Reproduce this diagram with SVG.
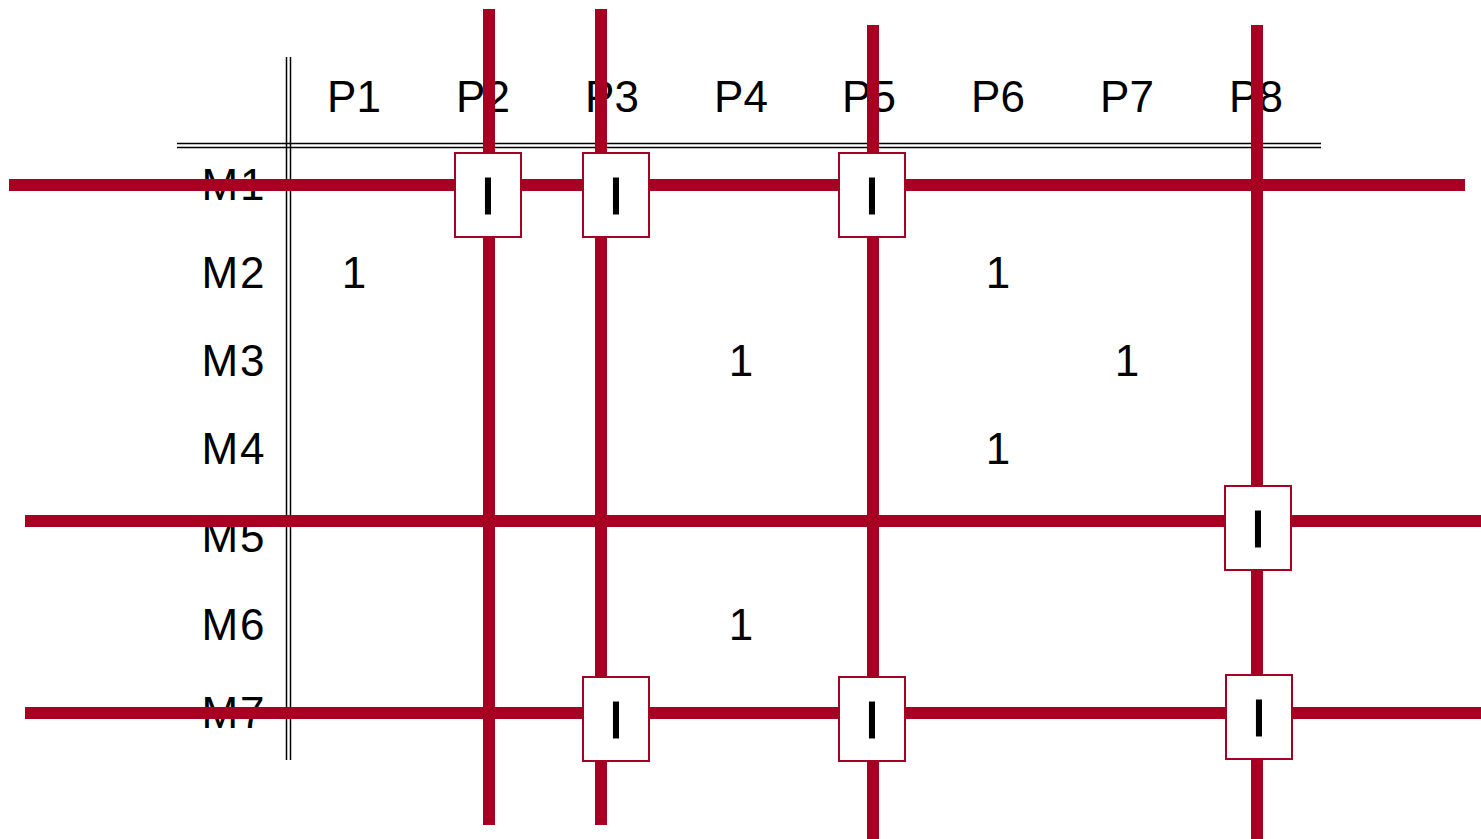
<svg xmlns="http://www.w3.org/2000/svg" width="1481" height="839" viewBox="0 0 1481 839">
<style>
.t{font-family:"Liberation Sans",Arial,sans-serif;font-size:44px;fill:#000;text-anchor:middle}
.m{font-family:"Liberation Sans",Arial,sans-serif;font-size:44px;fill:#000;text-anchor:middle;letter-spacing:2px}
.i{font-family:"Liberation Sans",Arial,sans-serif;font-size:52px;fill:#000;stroke:#000;stroke-width:1.2;text-anchor:middle}
.grid{stroke:#000;stroke-width:1.5;fill:none}
.red{stroke:#A50021;stroke-width:12;fill:none}
.box{fill:#fff;stroke:#A50021;stroke-width:2}
</style>
<rect width="1481" height="839" fill="#fff"/>
<g id="table-lines">
<line class="grid" x1="286.5" y1="57" x2="286.5" y2="760"/>
<line class="grid" x1="290.5" y1="57" x2="290.5" y2="760"/>
<line class="grid" x1="177" y1="143.5" x2="1321" y2="143.5"/>
<line class="grid" x1="177" y1="147.5" x2="1321" y2="147.5"/>
</g>
<g id="headers">
<text class="t" x="354" y="112">P1</text>
<text class="t" x="483" y="112">P2</text>
<text class="t" x="612" y="112">P3</text>
<text class="t" x="741" y="112">P4</text>
<text class="t" x="869" y="112">P5</text>
<text class="t" x="998" y="112">P6</text>
<text class="t" x="1127" y="112">P7</text>
<text class="t" x="1256" y="112">P8</text>
<text class="m" x="234" y="200">M1</text>
<text class="m" x="234" y="288">M2</text>
<text class="m" x="234" y="376">M3</text>
<text class="m" x="234" y="464">M4</text>
<text class="m" x="234" y="552">M5</text>
<text class="m" x="234" y="640">M6</text>
<text class="m" x="234" y="728">M7</text>
</g>
<g id="values">
<text class="t" x="354" y="288">1</text>
<text class="t" x="998" y="288">1</text>
<text class="t" x="741" y="376">1</text>
<text class="t" x="1127" y="376">1</text>
<text class="t" x="998" y="464">1</text>
<text class="t" x="741" y="640">1</text>
</g>
<g id="connectors">
<line class="red" x1="489" y1="9" x2="489" y2="825"/>
<line class="red" x1="601" y1="9" x2="601" y2="825"/>
<line class="red" x1="873" y1="25" x2="873" y2="839"/>
<line class="red" x1="1257" y1="25" x2="1257" y2="839"/>
<line class="red" x1="9" y1="185" x2="1465" y2="185"/>
<line class="red" x1="25" y1="521" x2="1481" y2="521"/>
<line class="red" x1="25" y1="713" x2="1481" y2="713"/>
</g>
<g id="box-p2-m1"><rect class="box" x="455" y="153" width="66" height="84"/><text class="i" x="488" y="214">I</text></g>
<g id="box-p3-m1"><rect class="box" x="583" y="153" width="66" height="84"/><text class="i" x="616" y="214">I</text></g>
<g id="box-p5-m1"><rect class="box" x="839" y="153" width="66" height="84"/><text class="i" x="872" y="214">I</text></g>
<g id="box-p8-m5"><rect class="box" x="1225" y="486" width="66" height="84"/><text class="i" x="1258" y="547">I</text></g>
<g id="box-p3-m7"><rect class="box" x="583" y="677" width="66" height="84"/><text class="i" x="616" y="738">I</text></g>
<g id="box-p5-m7"><rect class="box" x="839" y="677" width="66" height="84"/><text class="i" x="872" y="738">I</text></g>
<g id="box-p8-m7"><rect class="box" x="1226" y="675" width="66" height="84"/><text class="i" x="1259" y="736">I</text></g>
</svg>
